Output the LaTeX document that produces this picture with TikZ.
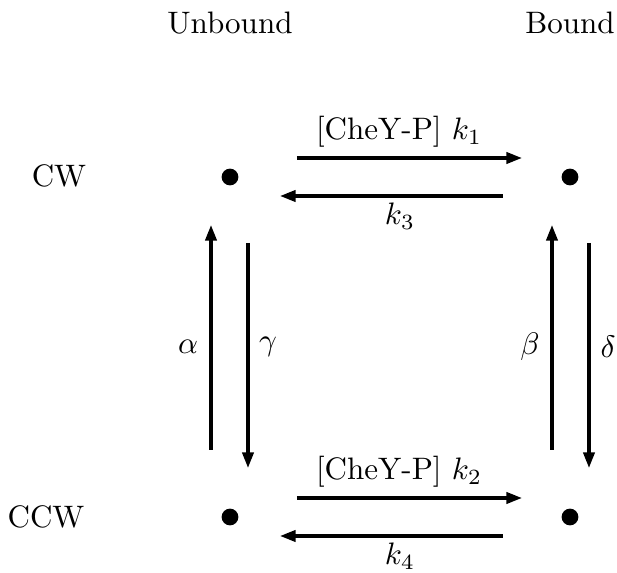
\documentclass[tikz,border=0pt]{standalone}
\usetikzlibrary{arrows.meta}
\begin{document}
\begin{tikzpicture}[x=0.322pt,y=-0.322pt,
  state/.style={circle,fill=black,inner sep=0pt,minimum size=5.4pt},
  rate/.style={line width=1pt,-{Triangle[length=5pt,width=3.6pt]}},
  lbl/.style={inner sep=0pt,anchor=base}]
\useasboundingbox (0,0) rectangle (617,573);
% headings
\node[lbl] (hu) at (230,33) {Unbound};
\node[lbl] (hb) at (570,33) {Bound};
\node[lbl] (cw) at (59,187) {CW};
\node[lbl] (ccw) at (46,528) {CCW};
% states
\node[state] (uc) at (230,177) {};
\node[state] (bc) at (570,177) {};
\node[state] (ua) at (230,517) {};
\node[state] (ba) at (570,517) {};
% arrow end points
\coordinate (t1s) at (297,158); \coordinate (t1e) at (522,158);
\coordinate (t3s) at (503,196); \coordinate (t3e) at (280,196);
\coordinate (b2s) at (297,498); \coordinate (b2e) at (522,498);
\coordinate (b4s) at (503,536); \coordinate (b4e) at (280,536);
\coordinate (las) at (211,450); \coordinate (lae) at (211,225);
\coordinate (lgs) at (248,243); \coordinate (lge) at (248,468);
\coordinate (rbs) at (552,450); \coordinate (rbe) at (552,225);
\coordinate (rds) at (589,243); \coordinate (rde) at (589,468);
\draw[rate] (t1s) -- (t1e);
\draw[rate] (t3s) -- (t3e);
\draw[rate] (b2s) -- (b2e);
\draw[rate] (b4s) -- (b4e);
\draw[rate] (las) -- (lae);
\draw[rate] (lgs) -- (lge);
\draw[rate] (rbs) -- (rbe);
\draw[rate] (rds) -- (rde);
% rate labels
\node[lbl] (k1) at (399,140) {[CheY-P] $k_1$};
\node[lbl] (k3) at (400,225) {$k_3$};
\node[lbl] (k2) at (399,480) {[CheY-P] $k_2$};
\node[lbl] (k4) at (400,565) {$k_4$};
\node[inner sep=0pt] (al) at (188,347) {$\alpha$};
\node[inner sep=0pt] (ga) at (268,347) {$\gamma$};
\node[inner sep=0pt] (be) at (530,347) {$\beta$};
\node[inner sep=0pt] (de) at (608,347) {$\delta$};
\end{tikzpicture}
\end{document}
